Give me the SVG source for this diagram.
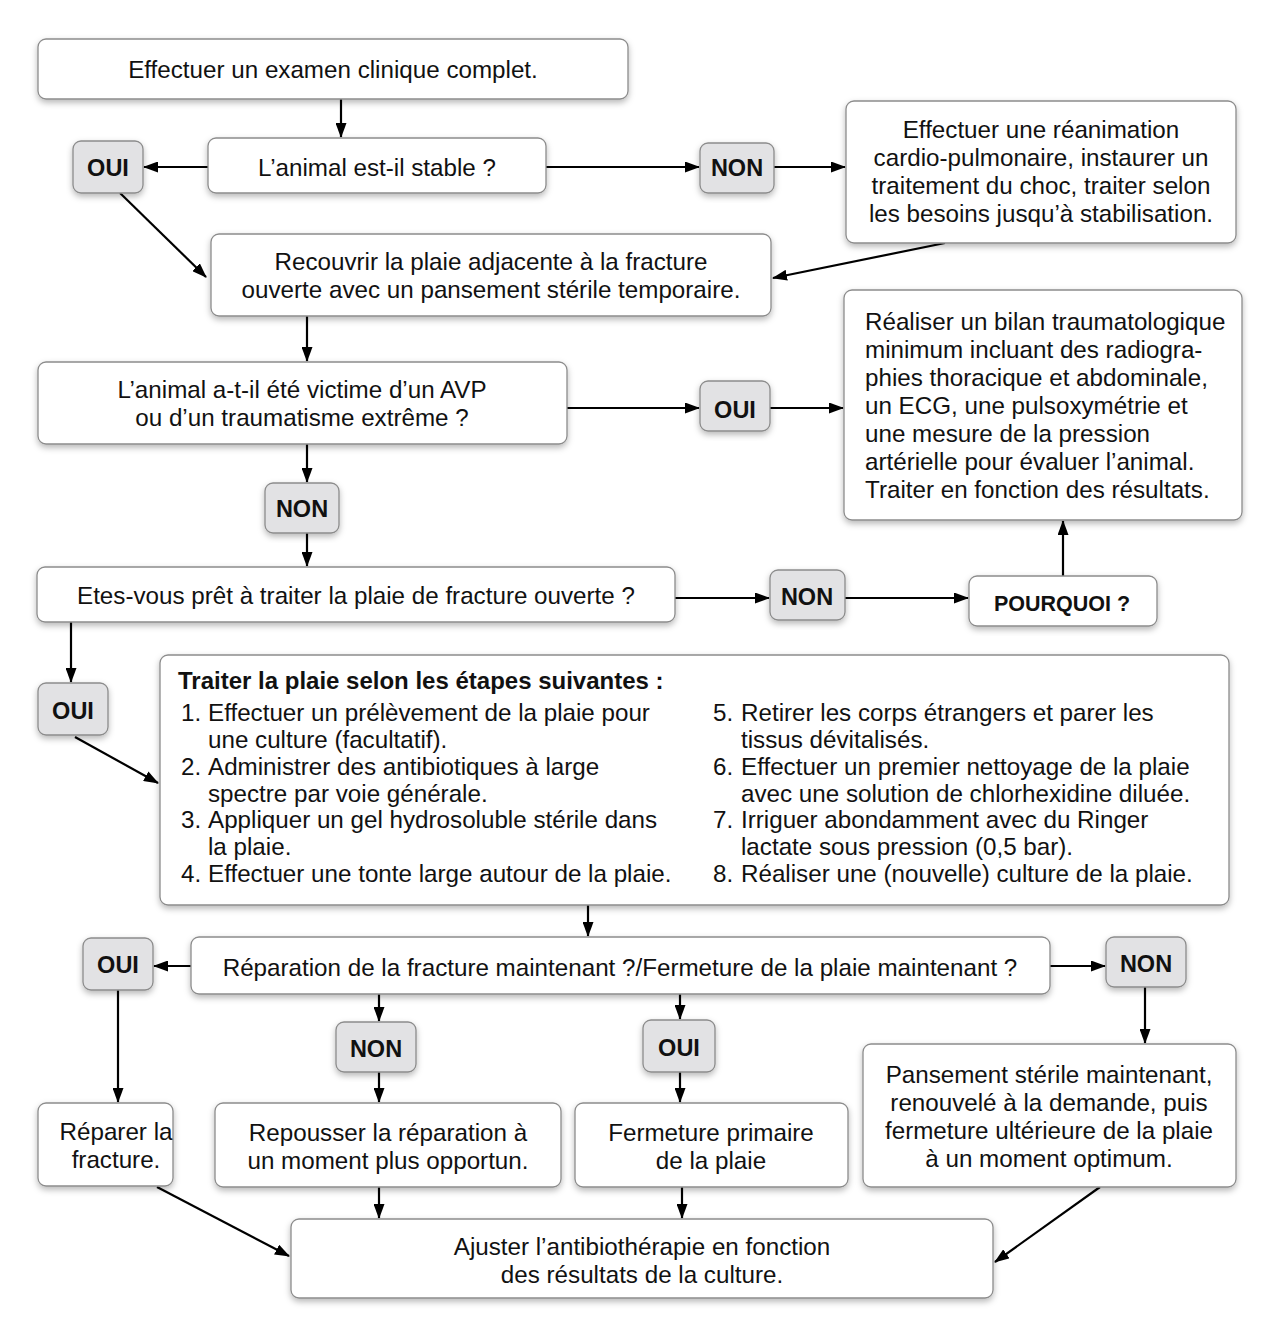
<svg xmlns="http://www.w3.org/2000/svg" width="1275" height="1320" viewBox="0 0 1275 1320">
<style>
.box{fill:#ffffff;stroke:#8c8c8c;stroke-width:1.3;filter:url(#sh)}
.yn{fill:#e2e2e4;stroke:#8c8c8c;stroke-width:1.3;filter:url(#sh)}
text{font-family:"Liberation Sans",Arial,Helvetica,sans-serif;font-size:24.2px;fill:#111}
.c{text-anchor:middle}
.b{font-weight:bold;font-size:23.5px}
.conn line{stroke:#000;stroke-width:2.2;marker-end:url(#ah)}
</style>
<defs>
<filter id="sh" x="-10%" y="-10%" width="120%" height="130%">
<feDropShadow dx="0" dy="3" stdDeviation="3" flood-color="#000" flood-opacity="0.28"/>
</filter>
<marker id="ah" viewBox="0 0 15 11" refX="14" refY="5.5" markerWidth="15" markerHeight="11" markerUnits="userSpaceOnUse" orient="auto">
<path d="M0,0 L15,5.5 L0,11 Z" fill="#000"/>
</marker>
</defs>
<rect width="1275" height="1320" fill="#ffffff"/>

<g class="conn">
<line x1="341" y1="99" x2="341" y2="137"/>
<line x1="208" y1="167" x2="144" y2="167"/>
<line x1="546" y1="167" x2="699" y2="167"/>
<line x1="774" y1="167" x2="845" y2="167"/>
<line x1="945" y1="243" x2="773" y2="278"/>
<line x1="120" y1="193" x2="206" y2="277"/>
<line x1="307" y1="316" x2="307" y2="361"/>
<line x1="567" y1="408" x2="699" y2="408"/>
<line x1="770" y1="408" x2="843" y2="408"/>
<line x1="307" y1="444" x2="307" y2="482"/>
<line x1="307" y1="533" x2="307" y2="566"/>
<line x1="675" y1="598" x2="769" y2="598"/>
<line x1="845" y1="598" x2="968" y2="598"/>
<line x1="1063" y1="576" x2="1063" y2="521"/>
<line x1="71" y1="622" x2="71" y2="682"/>
<line x1="75" y1="737" x2="158" y2="783"/>
<line x1="588" y1="905" x2="588" y2="936"/>
<line x1="191" y1="966" x2="154" y2="966"/>
<line x1="1050" y1="966" x2="1105" y2="966"/>
<line x1="379" y1="994" x2="379" y2="1021"/>
<line x1="680" y1="994" x2="680" y2="1019"/>
<line x1="118" y1="990" x2="118" y2="1102"/>
<line x1="379" y1="1072" x2="379" y2="1102"/>
<line x1="680" y1="1072" x2="680" y2="1102"/>
<line x1="1145" y1="987" x2="1145" y2="1043"/>
<line x1="157" y1="1187" x2="289" y2="1256"/>
<line x1="379" y1="1187" x2="379" y2="1218"/>
<line x1="682" y1="1187" x2="682" y2="1218"/>
<line x1="1100" y1="1187" x2="995" y2="1262"/>
</g>

<g id="n-examen">
<rect class="box" x="38" y="39" width="590" height="60" rx="8"/>
<text class="c" x="333" y="78">Effectuer un examen clinique complet.</text>
</g>
<g id="n-stable">
<rect class="box" x="208" y="138" width="338" height="55" rx="8"/>
<text class="c" x="377" y="176">L’animal est-il stable ?</text>
</g>
<g id="n-oui1">
<rect class="yn" x="73" y="141" width="70" height="52" rx="8"/>
<text class="c b" x="108" y="176">OUI</text>
</g>
<g id="n-non1">
<rect class="yn" x="700" y="143" width="74" height="50" rx="8"/>
<text class="c b" x="737" y="176">NON</text>
</g>
<g id="n-reanimation">
<rect class="box" x="846" y="101" width="390" height="142" rx="8"/>
<text class="c" x="1041" y="138">Effectuer une réanimation</text>
<text class="c" x="1041" y="166">cardio-pulmonaire, instaurer un</text>
<text class="c" x="1041" y="194">traitement du choc, traiter selon</text>
<text class="c" x="1041" y="222">les besoins jusqu’à stabilisation.</text>
</g>
<g id="n-recouvrir">
<rect class="box" x="211" y="234" width="560" height="82" rx="8"/>
<text class="c" x="491" y="270">Recouvrir la plaie adjacente à la fracture</text>
<text class="c" x="491" y="298">ouverte avec un pansement stérile temporaire.</text>
</g>
<g id="n-avp">
<rect class="box" x="38" y="362" width="529" height="82" rx="8"/>
<text class="c" x="302" y="398">L’animal a-t-il été victime d’un AVP</text>
<text class="c" x="302" y="426">ou d’un traumatisme extrême ?</text>
</g>
<g id="n-oui2">
<rect class="yn" x="700" y="381" width="70" height="50" rx="8"/>
<text class="c b" x="735" y="418">OUI</text>
</g>
<g id="n-bilan">
<rect class="box" x="844" y="290" width="398" height="230" rx="8"/>
<text x="865" y="330">Réaliser un bilan traumatologique</text>
<text x="865" y="358">minimum incluant des radiogra-</text>
<text x="865" y="386">phies thoracique et abdominale,</text>
<text x="865" y="414">un ECG, une pulsoxymétrie et</text>
<text x="865" y="442">une mesure de la pression</text>
<text x="865" y="470">artérielle pour évaluer l’animal.</text>
<text x="865" y="498">Traiter en fonction des résultats.</text>
</g>
<g id="n-non2">
<rect class="yn" x="265" y="483" width="74" height="50" rx="8"/>
<text class="c b" x="302" y="517">NON</text>
</g>
<g id="n-pret">
<rect class="box" x="37" y="567" width="638" height="55" rx="8"/>
<text class="c" x="356" y="604">Etes-vous prêt à traiter la plaie de fracture ouverte ?</text>
</g>
<g id="n-non3">
<rect class="yn" x="770" y="570" width="75" height="50" rx="8"/>
<text class="c b" x="807" y="605">NON</text>
</g>
<g id="n-pourquoi">
<rect class="box" x="969" y="576" width="188" height="50" rx="8"/>
<text class="c b" x="1062" y="611" style="font-size:21.5px">POURQUOI ?</text>
</g>
<g id="n-oui3">
<rect class="yn" x="38" y="683" width="70" height="52" rx="8"/>
<text class="c b" x="73" y="719">OUI</text>
</g>
<g id="n-traiter">
<rect class="box" x="160" y="655" width="1069" height="250" rx="8"/>
<text class="b" x="178" y="689" style="font-size:24px">Traiter la plaie selon les étapes suivantes :</text>
<text x="181" y="721">1.</text><text x="208" y="721">Effectuer un prélèvement de la plaie pour</text>
<text x="208" y="748">une culture (facultatif).</text>
<text x="181" y="775">2.</text><text x="208" y="775">Administrer des antibiotiques à large</text>
<text x="208" y="802">spectre par voie générale.</text>
<text x="181" y="828">3.</text><text x="208" y="828">Appliquer un gel hydrosoluble stérile dans</text>
<text x="208" y="855">la plaie.</text>
<text x="181" y="882">4.</text><text x="208" y="882">Effectuer une tonte large autour de la plaie.</text>
<text x="713" y="721">5.</text><text x="741" y="721">Retirer les corps étrangers et parer les</text>
<text x="741" y="748">tissus dévitalisés.</text>
<text x="713" y="775">6.</text><text x="741" y="775">Effectuer un premier nettoyage de la plaie</text>
<text x="741" y="802">avec une solution de chlorhexidine diluée.</text>
<text x="713" y="828">7.</text><text x="741" y="828">Irriguer abondamment avec du Ringer</text>
<text x="741" y="855">lactate sous pression (0,5 bar).</text>
<text x="713" y="882">8.</text><text x="741" y="882">Réaliser une (nouvelle) culture de la plaie.</text>
</g>
<g id="n-reparation">
<rect class="box" x="191" y="937" width="859" height="57" rx="8"/>
<text class="c" x="620" y="976">Réparation de la fracture maintenant ?/Fermeture de la plaie maintenant ?</text>
</g>
<g id="n-oui4">
<rect class="yn" x="83" y="938" width="70" height="52" rx="8"/>
<text class="c b" x="118" y="973">OUI</text>
</g>
<g id="n-non5">
<rect class="yn" x="1106" y="937" width="80" height="50" rx="8"/>
<text class="c b" x="1146" y="972">NON</text>
</g>
<g id="n-non4">
<rect class="yn" x="336" y="1022" width="80" height="50" rx="8"/>
<text class="c b" x="376" y="1057">NON</text>
</g>
<g id="n-oui5">
<rect class="yn" x="643" y="1020" width="72" height="52" rx="8"/>
<text class="c b" x="679" y="1056">OUI</text>
</g>
<g id="n-reparer">
<rect class="box" x="38" y="1103" width="135" height="83" rx="8"/>
<text class="c" x="116" y="1140">Réparer la</text>
<text class="c" x="116" y="1168">fracture.</text>
</g>
<g id="n-repousser">
<rect class="box" x="215" y="1103" width="346" height="84" rx="8"/>
<text class="c" x="388" y="1141">Repousser la réparation à</text>
<text class="c" x="388" y="1169">un moment plus opportun.</text>
</g>
<g id="n-fermeture">
<rect class="box" x="575" y="1103" width="273" height="84" rx="8"/>
<text class="c" x="711" y="1141">Fermeture primaire</text>
<text class="c" x="711" y="1169">de la plaie</text>
</g>
<g id="n-pansement">
<rect class="box" x="863" y="1044" width="373" height="143" rx="8"/>
<text class="c" x="1049" y="1083">Pansement stérile maintenant,</text>
<text class="c" x="1049" y="1111">renouvelé à la demande, puis</text>
<text class="c" x="1049" y="1139">fermeture ultérieure de la plaie</text>
<text class="c" x="1049" y="1167">à un moment optimum.</text>
</g>
<g id="n-ajuster">
<rect class="box" x="291" y="1219" width="702" height="79" rx="8"/>
<text class="c" x="642" y="1255">Ajuster l’antibiothérapie en fonction</text>
<text class="c" x="642" y="1283">des résultats de la culture.</text>
</g>
</svg>
